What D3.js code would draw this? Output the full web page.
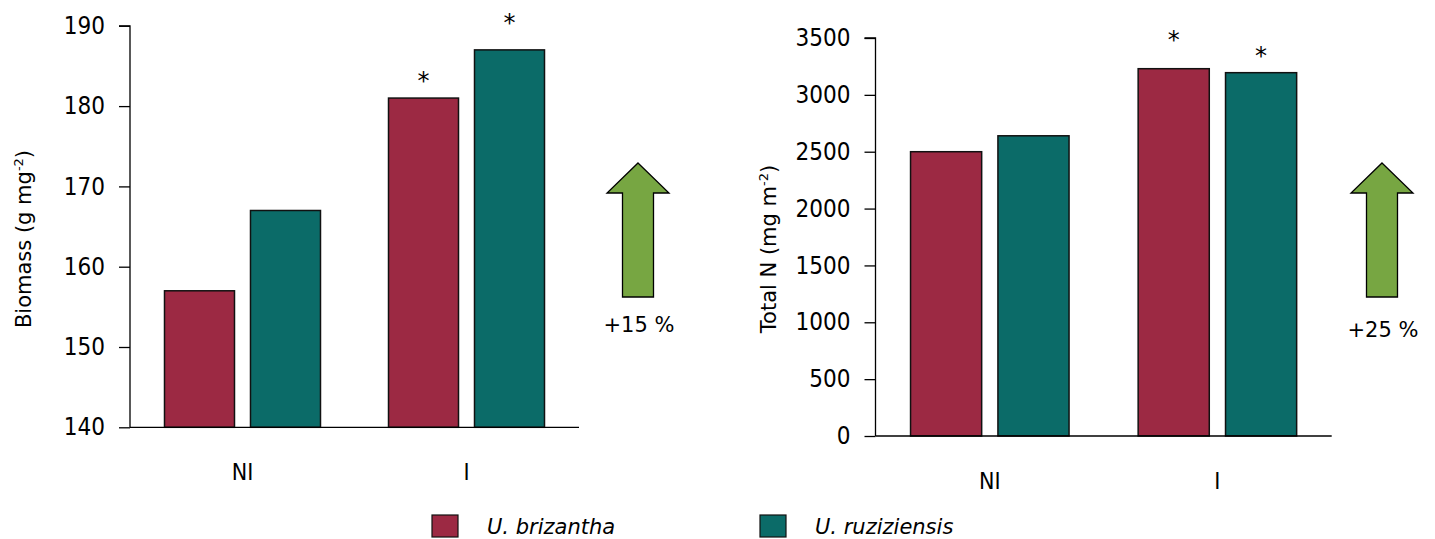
<!DOCTYPE html>
<html>
<head>
<meta charset="utf-8">
<script src="https://cdn.jsdelivr.net/npm/d3@7"></script>
<style>
  html, body { margin: 0; padding: 0; background: #fff; }
  svg { display: block; }
  .tick text { font-family: "DejaVu Sans Condensed", "DejaVu Sans", sans-serif; font-size: 24px; fill: #000; }
</style>
</head>
<body>
<svg id="chart" width="1435" height="539"></svg>
<script>
// ---- data ----
const groups = ["NI", "I"];
const species = ["U. brizantha", "U. ruziziensis"];
const colors = ["#9c2943", "#0b6b68"];

const biomassBrizantha = [157, 181];
const biomassRuziziensis = [167, 187];
const biomassTicks = [140, 150, 160, 170, 180, 190];
const biomassSig = [null, null, 183.6, 190.9]; // asterisk level (NI-b, NI-r, I-b, I-r)

const nitrogenBrizantha = [2500, 3230];
const nitrogenRuziziensis = [2640, 3195];
const nitrogenTicks = [0, 500, 1000, 1500, 2000, 2500, 3000, 3500];
const nitrogenSig = [null, null, 3520, 3380];

const increaseLabels = ["+15 %", "+25 %"];

// ---- drawing ----
const svg = d3.select("#chart");
svg.append("rect").attr("width", 1435).attr("height", 539).attr("fill", "#fff");

function panel(opts) {
  const g = svg.append("g");
  const y = d3.scaleLinear().domain(opts.domain).range([opts.y0, opts.y1]);
  const x0 = d3.scaleBand().domain(groups).range([opts.x0, opts.x1])
    .paddingInner(0.3036).paddingOuter(0.154);
  const x1 = d3.scaleBand().domain(species).range([0, x0.bandwidth()])
    .paddingInner(0.186).paddingOuter(0);

  const rows = [];
  groups.forEach((grp, i) => {
    rows.push({ grp, sp: species[0], v: opts.a[i], c: colors[0], sig: opts.sig[i * 2] });
    rows.push({ grp, sp: species[1], v: opts.b[i], c: colors[1], sig: opts.sig[i * 2 + 1] });
  });

  g.selectAll("rect.bar").data(rows).join("rect")
    .attr("class", "bar")
    .attr("x", d => x0(d.grp) + x1(d.sp))
    .attr("width", x1.bandwidth())
    .attr("y", d => y(d.v))
    .attr("height", d => y(opts.domain[0]) - y(d.v))
    .attr("fill", d => d.c)
    .attr("stroke", "#111")
    .attr("stroke-width", 1.5);

  g.selectAll("text.sig").data(rows.filter(d => d.sig != null)).join("text")
    .attr("class", "sig")
    .attr("x", d => x0(d.grp) + x1(d.sp) + x1.bandwidth() / 2)
    .attr("y", d => y(d.sig) + 12)
    .attr("text-anchor", "middle")
    .attr("font-family", "DejaVu Sans, sans-serif")
    .attr("font-size", 24)
    .text("*");

  // y axis
  const ya = g.append("g").attr("transform", `translate(${opts.x0},0)`)
    .call(d3.axisLeft(y).tickValues(opts.ticks).tickSize(11).tickPadding(14).tickFormat(d3.format("d")));
  ya.select(".domain").attr("stroke", "#000").attr("stroke-width", 1.3).attr("d", `M-11,${opts.y1}H0V${opts.y0}`);
  ya.selectAll(".tick line").attr("stroke", "#000").attr("stroke-width", 1.3);

  // x baseline
  g.append("line").attr("x1", opts.x0).attr("x2", opts.x1)
    .attr("y1", y(opts.domain[0])).attr("y2", y(opts.domain[0]))
    .attr("stroke", "#000").attr("stroke-width", 1.3);

  // group labels
  g.selectAll("text.grp").data(groups).join("text")
    .attr("class", "grp")
    .attr("x", d => x0(d) + x0.bandwidth() / 2)
    .attr("y", opts.y0 + 53)
    .attr("text-anchor", "middle")
    .attr("font-family", "DejaVu Sans Condensed, DejaVu Sans, sans-serif")
    .attr("font-size", 23)
    .text(d => d);

  // y title
  const t = g.append("text")
    .attr("transform", `translate(${opts.titleX},${opts.titleY}) rotate(-90)`)
    .attr("text-anchor", "middle")
    .attr("font-family", "DejaVu Sans, sans-serif")
    .attr("font-size", 21);
  t.append("tspan").text(opts.title);
  t.append("tspan").attr("dy", -8).attr("font-size", 13).text("-2");
  t.append("tspan").attr("dy", 8).text(")");

  // increase arrow
  const ax = opts.arrowX, tip = 163, hb = 193, bot = 297, hw = 31, sw = 15.5;
  g.append("path")
    .attr("d", `M${ax},${tip}L${ax + hw},${hb}H${ax + sw}V${bot}H${ax - sw}V${hb}H${ax - hw}Z`)
    .attr("fill", "#77a642").attr("stroke", "#000").attr("stroke-width", 1.3)
    .attr("stroke-linejoin", "miter");
  g.append("text")
    .attr("x", ax + 1).attr("y", opts.pctY)
    .attr("text-anchor", "middle")
    .attr("font-family", "DejaVu Sans, sans-serif")
    .attr("font-size", 21)
    .text(opts.pct);
}

panel({
  domain: [140, 190], y0: 427.3, y1: 25.8, x0: 130, x1: 579,
  a: biomassBrizantha, b: biomassRuziziensis, ticks: biomassTicks, sig: biomassSig,
  title: "Biomass (g mg", titleX: 31, titleY: 239,
  arrowX: 638, pct: increaseLabels[0], pctY: 332
});

panel({
  domain: [0, 3500], y0: 436, y1: 38, x0: 875.5, x1: 1331.7,
  a: nitrogenBrizantha, b: nitrogenRuziziensis, ticks: nitrogenTicks, sig: nitrogenSig,
  title: "Total N (mg m", titleX: 776, titleY: 249,
  arrowX: 1382, pct: increaseLabels[1], pctY: 337
});

// legend
const leg = svg.append("g");
const legX = [432, 760];
species.forEach((s, i) => {
  leg.append("rect").attr("x", legX[i]).attr("y", 515).attr("width", 26).attr("height", 22)
    .attr("fill", colors[i]).attr("stroke", "#111").attr("stroke-width", 1.2);
  leg.append("text").attr("x", legX[i] + 55).attr("y", 534)
    .attr("font-family", "DejaVu Sans, sans-serif").attr("font-style", "italic")
    .attr("font-size", 21).text(s);
});
</script>
</body>
</html>
